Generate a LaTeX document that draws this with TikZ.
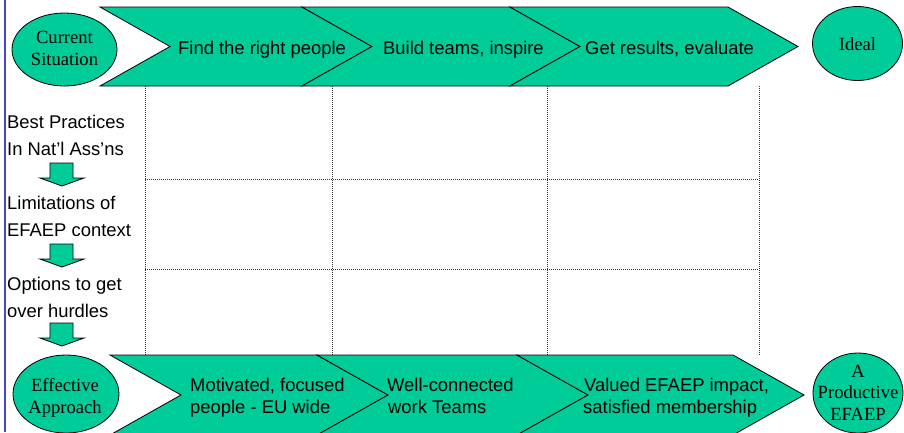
\documentclass[tikz,border=0pt]{standalone}
\usepackage{fontspec}
\setmainfont{Liberation Serif}
\newfontfamily\arialf{Liberation Sans}
\usetikzlibrary{shapes.geometric}
\definecolor{chevgreen}{RGB}{0,204,153}
\definecolor{leftblue}{RGB}{70,70,210}
\begin{document}
\begin{tikzpicture}[x=1pt,y=-1pt,
  chevron/.style={fill=chevgreen,draw=black,line width=0.8pt},
  oval/.style={ellipse,fill=chevgreen,draw=black,line width=0.8pt,inner sep=0pt},
  serif/.style={font=\fontsize{18.6}{22}\selectfont,inner sep=0pt,anchor=base},
  sans/.style={font=\arialf\fontsize{18.4}{22}\selectfont,inner sep=0pt,anchor=base west},
  gridline/.style={draw=black!80,line width=0.8pt,dash pattern=on 1pt off 1pt},
  downarrow/.style={fill=chevgreen,draw=black,line width=0.8pt}]
\fill[white] (0,0) rectangle (904,432);
\useasboundingbox (0,0) rectangle (904,432);
\draw[leftblue,line width=1.2pt] (5,0) -- (5,432);
% grid
\foreach \x in {145,332,547,759} \draw[gridline] (\x,86) -- (\x,355);
\foreach \y in {179,269} \draw[gridline] (145,\y) -- (759,\y);
% top chevrons
\foreach \l/\r in {100/302,302/510,510/728}
  \draw[chevron] (\l,7) -- (\r,7) -- ({\r+70},46.5) -- (\r,86) -- (\l,86) -- ({\l+70},46.5) -- cycle;
% bottom chevrons
\foreach \l/\r in {110/317,317/517,517/733}
  \draw[chevron] (\l,355) -- (\r,355) -- ({\r+71},395) -- (\r,435) -- (\l,435) -- ({\l+71},395) -- cycle;
% ovals
\node[oval,minimum width=105pt,minimum height=73pt] (cur) at (64.5,49.5) {};
\node[serif] (cur1) at (64.5,43) {Current};
\node[serif] (cur2) at (64.5,65) {Situation};
\node[oval,minimum width=90pt,minimum height=74pt] (ideal) at (857.5,43.5) {};
\node[serif] (idealt) at (857.5,50) {Ideal};
\node[oval,minimum width=106pt,minimum height=78pt] (eff) at (66,394) {};
\node[serif] (eff1) at (65,391) {Effective};
\node[serif] (eff2) at (65,413) {Approach};
\node[oval,minimum width=90pt,minimum height=80pt] (prod) at (858,393) {};
\node[serif] (prod1) at (858,377) {A};
\node[serif] (prod2) at (858,398.5) {Productive};
\node[serif] (prod3) at (858,420) {EFAEP};
% top chevron texts
\node[sans] (t1) at (178,54) {Find the right people};
\node[sans] (t2) at (383,54) {Build teams, inspire};
\node[sans] (t3) at (585,54) {Get results, evaluate};
% bottom chevron texts
\node[sans] (b1a) at (190,391) {Motivated, focused};
\node[sans] (b1b) at (190,413) {people - EU wide};
\node[sans] (b2a) at (387,391) {Well-connected};
\node[sans] (b2b) at (388,413) {work Teams};
\node[sans] (b3a) at (584,391) {Valued EFAEP impact,};
\node[sans] (b3b) at (583,413) {satisfied membership};
% left column
\node[sans] (l1) at (7,128) {Best Practices};
\node[sans] (l2) at (7,155) {In Nat’l Ass’ns};
\node[sans] (l3) at (7,209) {Limitations of};
\node[sans] (l4) at (7,236) {EFAEP context};
\node[sans] (l5) at (7,290) {Options to get};
\node[sans] (l6) at (7,317) {over hurdles};
\foreach \t in {163,244,323}
  \draw[downarrow] (50,\t) -- (73,\t) -- (73,{\t+15}) -- (84,{\t+15}) -- (62,{\t+23}) -- (40,{\t+15}) -- (50,{\t+15}) -- cycle;
\end{tikzpicture}
\end{document}
